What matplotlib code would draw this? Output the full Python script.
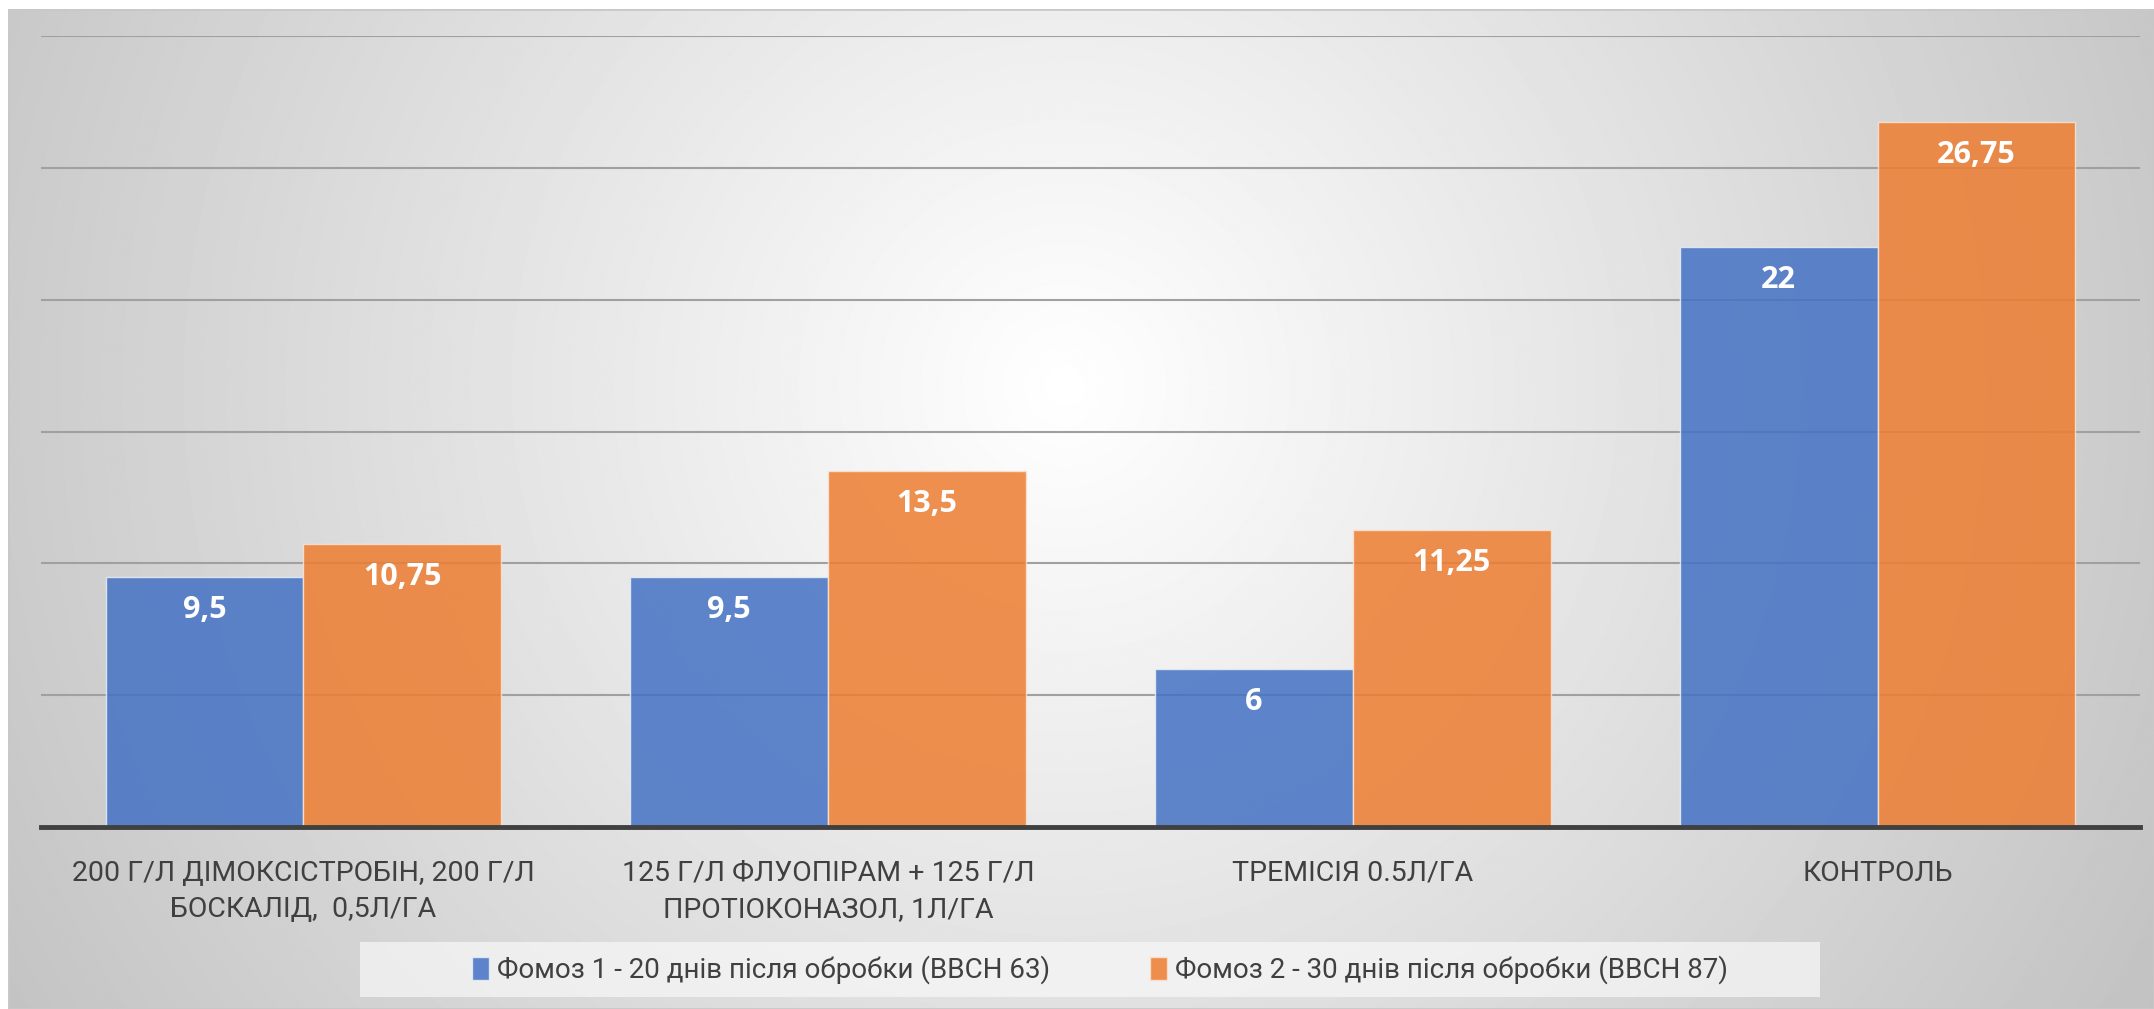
import numpy as np
import matplotlib.pyplot as plt
from matplotlib.patches import Rectangle

categories = ["200 Г/Л ДІМОКСІСТРОБІН, 200 Г/Л\nБОСКАЛІД,  0,5Л/ГА",
              "125 Г/Л ФЛУОПІРАМ + 125 Г/Л\nПРОТІОКОНАЗОЛ, 1Л/ГА",
              "ТРЕМІСІЯ 0.5Л/ГА",
              "КОНТРОЛЬ"]
series1_name = "Фомоз 1 - 20 днів після обробки (ВВСН 63)"
series2_name = "Фомоз 2 - 30 днів після обробки (ВВСН 87)"
series1 = [9.5, 9.5, 6, 22]
series2 = [10.75, 13.5, 11.25, 26.75]

FONT = ['Roboto', 'DejaVu Sans']
W, H = 2154, 1009

fig = plt.figure(figsize=(W / 100, H / 100), dpi=100)
fig.patch.set_facecolor('white')

# radial gradient background of the chart area
bx0 = 8
bg = fig.add_axes([bx0 / W, 0, 1 - bx0 / W, 1 - 9 / H], zorder=-10)
yy, xx = np.mgrid[0:H, 0:W]
cx, cy = 1060, 380
d = np.sqrt((xx - cx) ** 2 + (yy - cy) ** 2)
val = np.clip(1.0 - d * 0.00019, 0.76, 1.0)
bg.imshow(val, cmap='gray', vmin=0, vmax=1, aspect='auto', interpolation='bilinear')
bg.set_axis_off()
bg.add_patch(Rectangle((0, 0), 1, 1, transform=bg.transAxes, fill=False,
                       edgecolor='#c8c8c8', lw=2))
# legend background box
fig.patches.append(Rectangle((360 / W, 1 - 997 / H), (1820 - 360) / W, 55 / H,
                             transform=fig.transFigure, facecolor='#f8f8f8',
                             alpha=0.7, edgecolor='none', zorder=-5))

ax = fig.add_axes([41 / W, 1 - 827 / H, (2140 - 41) / W, (827 - 36) / H])
ax.patch.set_alpha(0)

x = np.arange(len(categories))
bw = 0.377
b1 = ax.bar(x - bw / 2, series1, bw, color='#4472C4', alpha=0.85,
            edgecolor='#e8eef8', linewidth=1, zorder=3, label=series1_name)
b2 = ax.bar(x + bw / 2, series2, bw, color='#ED7D31', alpha=0.85,
            edgecolor='#fbe3d3', linewidth=1, zorder=3, label=series2_name)

for bars, vals in ((b1, series1), (b2, series2)):
    for r, v in zip(bars, vals):
        txt = ('%g' % v).replace('.', ',')
        ax.annotate(txt, (r.get_x() + r.get_width() / 2, v), xytext=(0, -33),
                    textcoords='offset pixels', ha='center', va='center',
                    color='white', fontsize=22, fontweight='bold',
                    family=['Open Sans', 'DejaVu Sans'], zorder=5)

ax.set_xlim(-0.5, 3.5)
ax.set_ylim(0, 30)
ax.set_yticks(np.arange(0, 31, 5))
ax.yaxis.grid(True, color='#a0a0a0', lw=1.5, zorder=0)
ax.tick_params(axis='y', left=False, labelleft=False)
ax.tick_params(axis='x', bottom=False, pad=20)
ax.set_xticks(x)
ax.set_xticklabels(categories, fontsize=20.5, color='#404040', family=FONT,
                   linespacing=1.45)
for s in ('top', 'right', 'left'):
    ax.spines[s].set_visible(False)
ax.spines['bottom'].set_color('#404040')
ax.spines['bottom'].set_linewidth(3.5)
ax.spines['bottom'].set_zorder(6)

leg = fig.legend(loc='center', bbox_to_anchor=(1100 / W, 1 - 970 / H), ncol=2,
                 frameon=False, handlelength=0.6, handleheight=0.9,
                 handletextpad=0.3, columnspacing=3.6,
                 prop={'family': FONT, 'size': 20})
for t in leg.get_texts():
    t.set_color('#404040')

fig.savefig('out.png', dpi=100)
